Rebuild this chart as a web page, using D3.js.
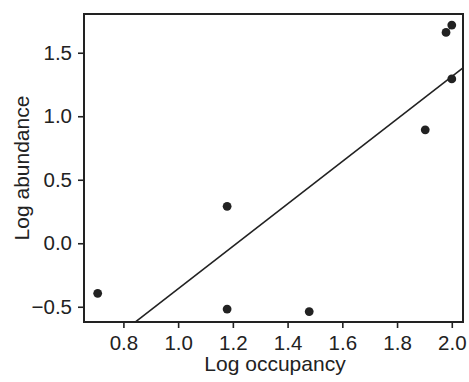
<!DOCTYPE html>
<html><head><meta charset="utf-8">
<script src="https://cdn.jsdelivr.net/npm/d3@7"></script>
<style>body{margin:0;background:#fff}svg{display:block}text{font-family:"Liberation Sans",Arial,sans-serif;fill:#222}</style>
</head><body>
<script>
const occupancy = [0.706, 1.179, 1.179, 1.479, 1.903, 2.0, 1.979, 2.0];
const abundance = [-0.394, 0.291, -0.518, -0.538, 0.893, 1.294, 1.66, 1.718];
const fitIntercept = -2.028, fitSlope = 1.67;
const fitRange = [0.843, 2.041];
const xTicks = [0.8, 1.0, 1.2, 1.4, 1.6, 1.8, 2.0];
const yTicks = [-0.5, 0.0, 0.5, 1.0, 1.5];

const W = 469, H = 382;
const m = {l:84, t:14, r:6, b:60};
const svg = d3.select("body").append("svg").attr("width", W).attr("height", H);
const x = d3.scaleLinear().domain([0.656, 2.041]).range([m.l, W - m.r]);
const y = d3.scaleLinear().domain([-0.62, 1.805]).range([H - m.b, m.t]);

const fs = 20.5, fsT = 21;
const xa = svg.append("g").attr("transform", `translate(0,${H - m.b})`)
  .call(d3.axisBottom(x).tickValues(xTicks).tickFormat(d3.format(".1f")).tickSize(6).tickPadding(7).tickSizeOuter(0));
const ya = svg.append("g").attr("transform", `translate(${m.l},0)`)
  .call(d3.axisLeft(y).tickValues(yTicks).tickFormat(d => d3.format(".1f")(d).replace("-", "\u2212")).tickSize(6).tickPadding(6).tickSizeOuter(0));
[xa, ya].forEach(a => {
  a.select(".domain").remove();
  a.selectAll("line").attr("stroke", "#222").attr("stroke-width", 1.6);
  a.selectAll("text").attr("font-size", fs).attr("fill", "#222");
});

svg.append("rect").attr("x", m.l).attr("y", m.t).attr("width", W - m.r - m.l).attr("height", H - m.b - m.t)
  .attr("fill", "none").attr("stroke", "#222").attr("stroke-width", 2);

svg.append("line")
  .attr("x1", x(fitRange[0])).attr("y1", y(fitIntercept + fitSlope * fitRange[0]))
  .attr("x2", x(fitRange[1])).attr("y2", y(fitIntercept + fitSlope * fitRange[1]))
  .attr("stroke", "#222").attr("stroke-width", 1.6);

svg.selectAll("circle.pt").data(occupancy).join("circle").attr("class", "pt")
  .attr("cx", d => x(d)).attr("cy", (d, i) => y(abundance[i])).attr("r", 4.4).attr("fill", "#222");

svg.append("text").attr("x", 275).attr("y", 371).attr("text-anchor", "middle")
  .attr("font-size", fsT).text("Log occupancy");
svg.append("text").attr("transform", `translate(28.5,${(m.t + H - m.b) / 2}) rotate(-90)`).attr("text-anchor", "middle")
  .attr("font-size", fsT).text("Log abundance");
</script>
</body></html>
